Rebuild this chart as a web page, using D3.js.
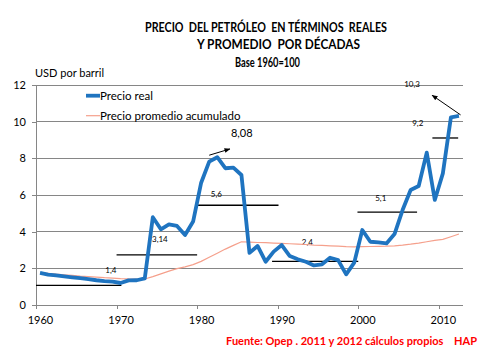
<!DOCTYPE html>
<html><head><meta charset="utf-8">
<script src="https://cdn.jsdelivr.net/npm/d3@7/dist/d3.min.js"></script>
<style>body{margin:0;background:#fff}svg{display:block}</style>
</head><body>
<svg id="c" width="480" height="360"></svg>
<script>
const years = d3.range(1960, 2013);
const precioReal = [1.75,1.66,1.61,1.56,1.51,1.46,1.41,1.35,1.3,1.27,1.2,1.34,1.35,1.45,4.79,4.13,4.4,4.31,3.82,4.55,
  6.67,7.82,8.06,7.46,7.49,7.09,2.84,3.22,2.36,2.91,3.27,2.67,2.49,2.36,2.16,2.22,2.58,2.45,1.67,2.31,
  4.09,3.45,3.42,3.36,3.87,5.18,6.27,6.49,8.31,5.73,7.18,10.24,10.31];
const promedioAcum = [1.76,1.72,1.68,1.65,1.62,1.58,1.55,1.52,1.49,1.47,1.44,1.42,1.41,1.42,1.55,1.7,1.85,1.98,2.08,2.2,
  2.38,2.6,2.82,3.05,3.25,3.45,3.43,3.41,3.4,3.38,3.36,3.34,3.32,3.3,3.27,3.25,3.23,3.21,3.18,3.17,
  3.18,3.19,3.2,3.21,3.23,3.27,3.32,3.38,3.45,3.52,3.58,3.72,3.87];
const decadeStart = [1959.5,1969.5,1979.5,1988.8,1999.4,2008.7];
const decadeEnd   = [1970.1,1979.5,1989.6,1999.5,2006.8,2011.9];
const decadeLevel = [1.07,2.73,5.44,2.38,5.07,9.11];
const decadeLabels = ["1,4","3,14","5,6","2,4","5,1","9,2"];
const labelYear = [1968.1,1973.9,1981.2,1992.5,2001.6,2006.2];
const labelValue = [1.74,3.44,5.89,3.25,5.67,9.79];
const yTicks = [0,2,4,6,8,10,12];
const xTickYears = [1960,1970,1980,1990,2000,2010];
const seriesNames = ["Precio real","Precio promedio acumulado"];
const titleLines = ["PRECIO  DEL PETRÓLEO  EN TÉRMINOS  REALES","Y PROMEDIO  POR DÉCADAS","Base 1960=100"];

const svg = d3.select("#c");
const font = "Lato, 'Open Sans', sans-serif";
const x = d3.scaleLinear().domain([1959.5, 2012.5]).range([36, 463]);
const y = d3.scaleLinear().domain([0, 12]).range([305, 85]);

// gridlines
svg.append("g").selectAll("line").data(yTicks.filter(d=>d>0)).join("line")
  .attr("x1", 36).attr("x2", 463).attr("y1", d=>y(d)).attr("y2", d=>y(d))
  .attr("stroke", "#868686").attr("stroke-width", 1).attr("shape-rendering","crispEdges");

// y axis
const yAxis = d3.axisLeft(y).tickValues(yTicks).tickSize(4).tickPadding(6).tickFormat(d3.format("d"));
const gy = svg.append("g").attr("transform","translate(36,0)").call(yAxis);
gy.select(".domain").attr("stroke","#868686").attr("d","M0,85V305");
gy.selectAll(".tick line").attr("stroke","#868686");
gy.selectAll("text").attr("font-family",font).attr("font-size",11).attr("fill","#000");
gy.attr("shape-rendering","crispEdges");

// x axis
const xAxis = d3.axisBottom(x).tickValues(xTickYears.map(d=>d-0.5)).tickSize(4).tickPadding(7)
  .tickFormat((d,i)=>String(xTickYears[i]));
const gx = svg.append("g").attr("transform","translate(0,305)").call(xAxis);
gx.select(".domain").attr("stroke","#868686").attr("d","M36,0H463");
gx.selectAll(".tick line").attr("stroke","#868686");
gx.selectAll("text").attr("font-family",font).attr("font-size",11).attr("fill","#000").attr("dx",4);
gx.attr("shape-rendering","crispEdges");

// decade lines
svg.append("g").selectAll("line").data(decadeLevel).join("line")
  .attr("x1",(d,i)=>x(decadeStart[i])).attr("x2",(d,i)=>x(decadeEnd[i]))
  .attr("y1",d=>y(d)).attr("y2",d=>y(d)).attr("stroke","#000").attr("stroke-width",1.3);
svg.append("g").selectAll("text").data(decadeLabels).join("text")
  .attr("x",(d,i)=>x(labelYear[i])).attr("y",(d,i)=>y(labelValue[i]))
  .attr("font-family",font).attr("font-size",8).attr("fill","#000").text(d=>d);

// lines
const line = d3.line().x((d,i)=>x(years[i])).y(d=>y(d));
svg.append("path").datum(promedioAcum).attr("d",line).attr("fill","none")
  .attr("stroke","#f5a08c").attr("stroke-width",1.2);
svg.append("path").datum(precioReal).attr("d",line).attr("fill","none")
  .attr("stroke","#1f74c0").attr("stroke-width",3.8).attr("stroke-linejoin","round");

// annotations
const defs = svg.append("defs");
defs.append("marker").attr("id","ah").attr("viewBox","0 0 10 10").attr("refX",9).attr("refY",5)
  .attr("markerWidth",6).attr("markerHeight",6).attr("orient","auto")
  .append("path").attr("d","M0,1L10,5L0,9Z").attr("fill","#000");
svg.append("line").attr("x1",x(1981.0)).attr("y1",y(8.17)).attr("x2",x(1983.57)).attr("y2",y(8.51))
  .attr("stroke","#000").attr("stroke-width",1).attr("marker-end","url(#ah)");
svg.append("text").attr("x",x(1983.7)).attr("y",y(9.17)).attr("font-family",font).attr("font-size",11)
  .attr("fill","#000").text("8,08");
svg.append("line").attr("x1",x(2012.2)).attr("y1",y(10.37)).attr("x2",x(2008.67)).attr("y2",y(11.44))
  .attr("stroke","#000").attr("stroke-width",1).attr("marker-end","url(#ah)");
svg.append("text").attr("x",x(2005.2)).attr("y",y(11.89)).attr("font-family",font).attr("font-size",8)
  .attr("fill","#000").text("10,3");

// legend
const lg = svg.append("g");
[["#1f74c0",3.8,95.7],["#f5a08c",1.2,115.7]].forEach((s,i)=>{
  lg.append("line").attr("x1",86).attr("x2",100).attr("y1",s[2]).attr("y2",s[2])
    .attr("stroke",s[0]).attr("stroke-width",s[1]);
  lg.append("text").attr("x",100).attr("y",s[2]+4).attr("font-family",font).attr("font-size",11.5)
    .attr("fill","#000").text(seriesNames[i]);
});

// axis title
svg.append("text").attr("x",35).attr("y",77).attr("font-family",font).attr("font-size",11)
  .attr("fill","#000").text("USD por barril");

// title
const tx = [266,278.5,267.5], ty = [32,49,67], tw = [242,163,65];
svg.append("g").selectAll("text").data(titleLines).join("text")
  .attr("x",(d,i)=>tx[i]).attr("y",(d,i)=>ty[i]).attr("text-anchor","middle")
  .attr("textLength",(d,i)=>tw[i]).attr("lengthAdjust","spacingAndGlyphs")
  .attr("font-family",font).attr("font-weight","bold").attr("font-size",12.5).attr("fill","#000")
  .style("white-space","pre").text(d=>d);

// source
svg.append("text").attr("x",477).attr("y",345).attr("text-anchor","end").attr("font-family",font)
  .attr("font-size",11).attr("font-weight","bold").attr("fill","#ff0000").style("white-space","pre")
  .text("Fuente: Opep . 2011 y 2012 cálculos propios    HAP");
</script>
</body></html>
